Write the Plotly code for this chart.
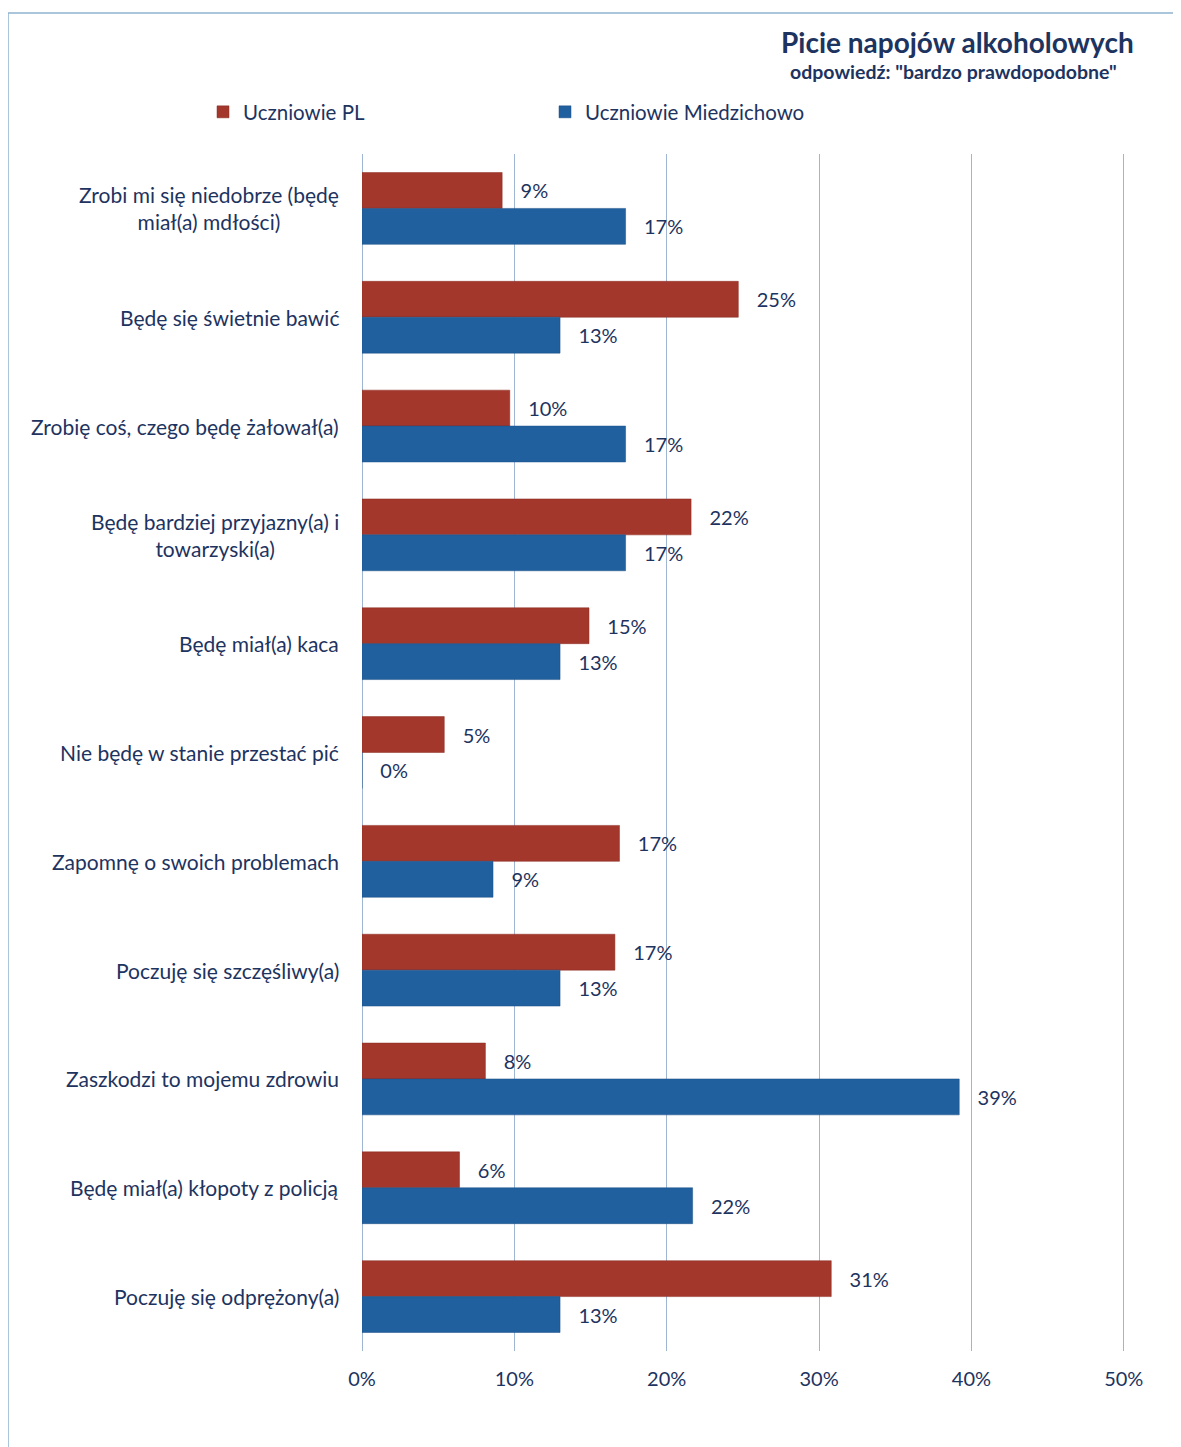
import plotly.graph_objects as go

categories = [
    "Zrobi mi się niedobrze (będę<br>miał(a) mdłości)",
    "Będę się świetnie bawić",
    "Zrobię coś, czego będę żałował(a)",
    "Będę bardziej przyjazny(a) i<br>towarzyski(a)",
    "Będę miał(a) kaca",
    "Nie będę w stanie przestać pić",
    "Zapomnę o swoich problemach",
    "Poczuję się szczęśliwy(a)",
    "Zaszkodzi to mojemu zdrowiu",
    "Będę miał(a) kłopoty z policją",
    "Poczuję się odprężony(a)",
]
pl_values = [9.2, 24.7, 9.7, 21.6, 14.9, 5.4, 16.9, 16.6, 8.1, 6.4, 30.8]
miedzichowo_values = [17.3, 13.0, 17.3, 17.3, 13.0, 0.0, 8.6, 13.0, 39.2, 21.7, 13.0]
tick_values = [0, 10, 20, 30, 40, 50]
tick_labels = ["0%", "10%", "20%", "30%", "40%", "50%"]

NAVY = "#1d3360"
RED = "#a3372b"
BLUE = "#21609f"
FONT = "Lato"
NB = "\u00a0"

# page offset (browser body margin)
OFF = 8
W, H = 1181 - OFF, 1447 - OFF
ml = 362 - OFF
mr = W - (1125 - OFF)
mt = 154 - OFF
mb = H - (1351 - OFF)
ph = H - mt - mb
pw = W - ml - mr


def px_x(p):
    return (p - OFF - ml) / pw


def px_y(p):
    return (H - mb - (p - OFF)) / ph


fig = go.Figure()
fig.add_trace(go.Bar(
    y=categories, x=pl_values, orientation="h", name="Uczniowie PL",
    marker=dict(color=RED, line=dict(color="#8a2c22", width=0.5)),
    texttemplate=NB * 3 + "%{x:.0f}%", textposition="outside",
    textfont=dict(color=NAVY, size=20, family=FONT), cliponaxis=False,
))
fig.add_trace(go.Bar(
    y=categories, x=miedzichowo_values, orientation="h", name="Uczniowie Miedzichowo",
    marker=dict(color=BLUE, line=dict(color="#1b4f85", width=0.5)),
    texttemplate=NB * 3 + "%{x:.0f}%", textposition="outside",
    textfont=dict(color=NAVY, size=20, family=FONT), cliponaxis=False,
))

cat_annotations = [
    dict(text=c, xref="paper", yref="y", x=px_x(341), y=c, xanchor="right",
         yanchor="middle", align="center", showarrow=False,
         font=dict(size=21, color=NAVY, family=FONT))
    for c in categories
]

fig.update_layout(
    width=W, height=H,
    margin=dict(l=ml, r=mr, t=mt, b=mb),
    paper_bgcolor="white", plot_bgcolor="white",
    barmode="group", bargap=0.34, bargroupgap=0.0,
    font=dict(family=FONT, color=NAVY, size=20),
    showlegend=True,
    legend=dict(
        orientation="h", x=px_x(203), y=px_y(112), xanchor="left", yanchor="middle",
        font=dict(size=20.5, color=NAVY, family=FONT),
        entrywidth=297, entrywidthmode="pixels", traceorder="normal",
        bgcolor="rgba(0,0,0,0)",
    ),
    xaxis=dict(
        range=[0, 50.08], tickvals=tick_values, ticktext=tick_labels,
        showgrid=True, gridcolor="#9fb6d2", gridwidth=1,
        zeroline=True, zerolinecolor="#9fb6d2", zerolinewidth=1,
        showline=False, ticks="outside", ticklen=10, tickcolor="rgba(0,0,0,0)",
        tickfont=dict(size=20, color=NAVY, family=FONT),
        fixedrange=True,
    ),
    yaxis=dict(
        autorange="reversed", showgrid=False, showline=False, zeroline=False,
        showticklabels=False, ticks="",
    ),
    annotations=cat_annotations + [
        dict(text="<b>Picie napojów alkoholowych</b>", xref="paper", yref="paper",
             x=px_x(1136), y=px_y(42), xanchor="right", yanchor="middle",
             showarrow=False, font=dict(size=28, color=NAVY, family=FONT)),
        dict(text="<b>odpowiedź: \"bardzo prawdopodobne\"</b>", xref="paper", yref="paper",
             x=px_x(1119), y=px_y(72), xanchor="right", yanchor="middle",
             showarrow=False, font=dict(size=19.5, color=NAVY, family=FONT)),
    ],
    shapes=[
        dict(type="line", xref="paper", yref="paper", x0=px_x(8), x1=px_x(1181),
             y0=px_y(13), y1=px_y(13), line=dict(color="#8fb3cf", width=1.5)),
        dict(type="line", xref="paper", yref="paper", x0=px_x(8), x1=px_x(8),
             y0=px_y(13), y1=px_y(1447), line=dict(color="#8fb3cf", width=1.5)),
    ],
)

fig.write_html("out.html")
